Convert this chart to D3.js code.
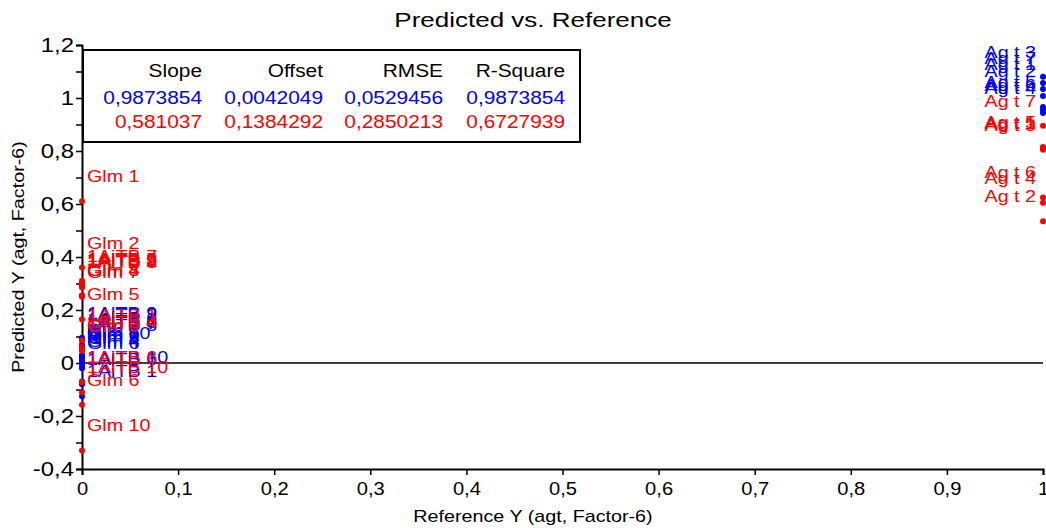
<!DOCTYPE html>
<html>
<head>
<meta charset="utf-8">
<script src="https://cdn.jsdelivr.net/npm/d3@7"></script>
<style>
  html, body { margin: 0; padding: 0; background: #fff; }
  svg { display: block; }
  text { font-family: "Liberation Sans", Arial, sans-serif; }
</style>
</head>
<body>
<svg id="chart" width="1046" height="528"></svg>
<script>
// Sample names
const samples = [
  "Ag t 1", "Ag t 2", "Ag t 3", "Ag t 4", "Ag t 5", "Ag t 6", "Ag t 7",
  "Glm 1", "Glm 2", "Glm 3", "Glm 4", "Glm 5", "Glm 6", "Glm 7", "Glm 8", "Glm 9", "Glm 10",
  "1AiTB 1", "1AiTB 2", "1AiTB 3", "1AiTB 4", "1AiTB 5", "1AiTB 6", "1AiTB 7", "1AiTB 8", "1AiTB 9", "1AiTB 10"
];
// Reference Y for each sample
const reference = [
  1, 1, 1, 1, 1, 1, 1,
  0, 0, 0, 0, 0, 0, 0, 0, 0, 0,
  0, 0, 0, 0, 0, 0, 0, 0, 0, 0
];
// Predicted Y, calibration (blue)
const predCal = [
  1.034, 1.008, 1.08, 0.943, 0.966, 0.955, 1.057,
  0.03, 0.01, 0.0, -0.01, 0.02, -0.02, 0.015, 0.025, 0.005, 0.02,
  -0.125, 0.09, 0.06, 0.065, 0.05, -0.08, 0.055, 0.07, 0.095, -0.07
];
// Predicted Y, validation (red)
const predVal = [
  0.81, 0.535, 0.805, 0.605, 0.815, 0.625, 0.895,
  0.61, 0.36, 0.05, 0.255, 0.165, -0.158, 0.25, 0.255, 0.045, -0.33,
  0.085, 0.29, 0.30, 0.06, 0.3, -0.072, 0.31, 0.285, 0.295, -0.11
];
// Statistics table
const statHeaders = ["Slope", "Offset", "RMSE", "R-Square"];
const statCal = ["0,9873854", "0,0042049", "0,0529456", "0,9873854"];
const statVal = ["0,581037", "0,1384292", "0,2850213", "0,6727939"];

const xTicks = [0, 0.1, 0.2, 0.3, 0.4, 0.5, 0.6, 0.7, 0.8, 0.9, 1];
const yTicks = [-0.4, -0.3, -0.2, -0.1, 0, 0.1, 0.2, 0.3, 0.4, 0.5, 0.6, 0.7, 0.8, 0.9, 1, 1.1, 1.2];

const BLUE = "#0000ff", RED = "#ff0000";
const SX = 1.16; // horizontal stretch of the lettering

const locale = d3.formatLocale({ decimal: ",", thousands: ".", grouping: [3], currency: ["", ""], minus: "-" });
const fmt = locale.format("~g");

const svg = d3.select("#chart");

const x = d3.scaleLinear().domain([0, 1]).range([82, 1043]);
const y = d3.scaleLinear().domain([-0.4, 1.2]).range([469, 45]);

// place a text element with a horizontal stretch
function put(sel, px, py, sx = SX) {
  return sel.attr("transform", `translate(${px},${py}) scale(${sx},1)`);
}

// title
put(svg.append("text"), 533, 27, 1.3)
  .attr("text-anchor", "middle")
  .attr("font-size", 20)
  .text("Predicted vs. Reference");

// zero line
svg.append("line")
  .attr("x1", x(0)).attr("x2", x(1))
  .attr("y1", y(0)).attr("y2", y(0))
  .attr("stroke", "#000").attr("stroke-width", 1.5);

// axes
const yAxis = d3.axisLeft(y)
  .tickValues(yTicks)
  .tickSize(6)
  .tickFormat(d => (Math.round(d * 10) % 2 === 0 ? fmt(d) : ""));
const gy = svg.append("g").attr("transform", `translate(${x(0)},0)`).call(yAxis);

const xAxis = d3.axisBottom(x)
  .tickValues(xTicks)
  .tickSize(6)
  .tickFormat(d => fmt(d));
const gx = svg.append("g").attr("transform", `translate(0,${y(-0.4)})`).call(xAxis);

[gy, gx].forEach(g => {
  g.select(".domain").attr("stroke", "#000").attr("stroke-width", 2);
  g.selectAll(".tick line").attr("stroke", "#000").attr("stroke-width", 1.5);
  g.selectAll(".tick text")
    .attr("fill", "#000")
    .attr("font-family", "Liberation Sans, Arial, sans-serif");
});
const SXY = 1.14;
gy.selectAll(".tick text")
  .attr("font-size", 21)
  .attr("x", -8 / SXY)
  .attr("transform", `scale(${SXY},1)`);
const SXX = 1.12;
gx.selectAll(".tick text")
  .attr("font-size", 18)
  .attr("y", 13)
  .attr("transform", `scale(${SXX},1)`);

// axis titles
put(svg.append("text"), 533, 522)
  .attr("text-anchor", "middle").attr("font-size", 17)
  .text("Reference Y (agt, Factor-6)");
svg.append("text")
  .attr("transform", `translate(24,257) rotate(-90) scale(${SX},1)`)
  .attr("text-anchor", "middle").attr("font-size", 17)
  .text("Predicted Y (agt, Factor-6)");

// sample points and labels, calibration first then validation
const series = [
  { values: predCal, color: BLUE },
  { values: predVal, color: RED }
];
series.forEach(s => {
  const rows = samples.map((name, i) => ({ name, ref: reference[i], pred: s.values[i] }));
  const g = svg.append("g");
  g.selectAll("circle").data(rows).join("circle")
    .attr("cx", d => x(d.ref)).attr("cy", d => y(d.pred))
    .attr("r", 3).attr("fill", s.color);
  g.selectAll("text").data(rows).join("text")
    .attr("transform", d => {
      const px = d.ref > 0.5 ? x(d.ref) - 7 : x(d.ref) + 5;
      return `translate(${px},${y(d.pred) - 19}) scale(${SX},1)`;
    })
    .attr("text-anchor", d => (d.ref > 0.5 ? "end" : "start"))
    .attr("font-size", 17)
    .attr("fill", s.color)
    .text(d => d.name);
});

// statistics box
const box = svg.append("g");
box.append("rect")
  .attr("x", 83).attr("y", 50).attr("width", 497).attr("height", 92)
  .attr("fill", "#fff").attr("stroke", "#000").attr("stroke-width", 2);
const colRight = [202, 323, 443, 565];
statHeaders.forEach((h, i) => {
  put(box.append("text"), colRight[i], 77).attr("text-anchor", "end").attr("font-size", 18).attr("fill", "#000").text(h);
  put(box.append("text"), colRight[i], 104).attr("text-anchor", "end").attr("font-size", 18).attr("fill", BLUE).text(statCal[i]);
  put(box.append("text"), colRight[i], 128).attr("text-anchor", "end").attr("font-size", 18).attr("fill", RED).text(statVal[i]);
});
</script>
</body>
</html>
